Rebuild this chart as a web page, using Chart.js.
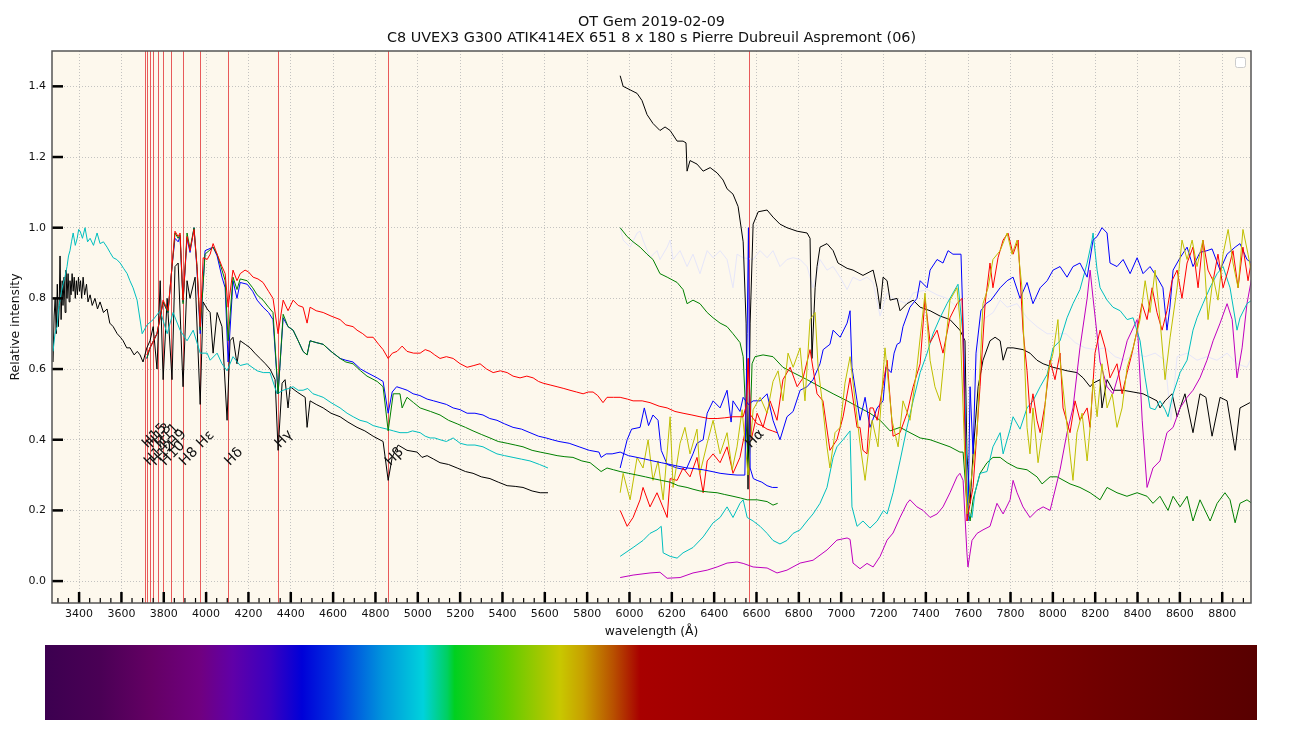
<!DOCTYPE html>
<html>
<head>
<meta charset="utf-8">
<script src="https://cdn.jsdelivr.net/npm/chart.js@4.4.1/dist/chart.umd.min.js"></script>
<style>
  html, body { margin: 0; background: #fff; }
</style>
</head>
<body>
<canvas id="spectrum" width="1303" height="736"></canvas>
<script>
const titleLines = ['OT Gem 2019-02-09', 'C8 UVEX3 G300 ATIK414EX 651 8 x 180 s Pierre Dubreuil Aspremont (06)'];

// Balmer lines (Å) and their labels
const balmerWl = [3712, 3722, 3734, 3750, 3771, 3798, 3835, 3889, 3970, 4102, 4340, 4861, 6563];
const balmerNames = ['H15', 'H14', 'H13', 'H12', 'H11', 'H10', 'H9', 'H8', 'Hε', 'Hδ', 'Hγ', 'Hβ', 'Hα'];
const labelLevel = [0.375, 0.325, 0.375, 0.325, 0.375, 0.325, 0.375, 0.325, 0.375, 0.325, 0.375, 0.325, 0.375];

// spectra, [wavelength, relative intensity]
const black1 = [[3277,0.62],[3282,0.75],[3287,0.80],[3292,0.70],[3297,0.84],[3302,0.72],[3306,0.78],[3310,0.92],[3315,0.74],[3320,0.85],[3324,0.78],[3329,0.86],[3334,0.76],[3338,0.88],[3343,0.80],[3348,0.87],[3353,0.79],[3357,0.85],[3362,0.81],[3367,0.87],[3372,0.82],[3377,0.86],[3382,0.80],[3387,0.85],[3392,0.81],[3397,0.86],[3402,0.82],[3407,0.85],[3412,0.80],[3419,0.86],[3426,0.81],[3435,0.84],[3442,0.79],[3452,0.81],[3462,0.78],[3475,0.80],[3487,0.77],[3499,0.79],[3515,0.76],[3532,0.77],[3545,0.73],[3561,0.72],[3580,0.70],[3595,0.69],[3608,0.68],[3625,0.66],[3641,0.66],[3660,0.64],[3675,0.65],[3688,0.64],[3702,0.62],[3720,0.66],[3735,0.68],[3750,0.72],[3768,0.60],[3783,0.85],[3797,0.57],[3816,0.80],[3839,0.57],[3853,0.89],[3868,0.90],[3891,0.55],[3910,0.85],[3924,0.80],[3948,0.86],[3972,0.50],[3986,0.79],[4005,0.77],[4019,0.76],[4033,0.645],[4052,0.76],[4075,0.72],[4099,0.455],[4113,0.68],[4127,0.69],[4146,0.615],[4161,0.68],[4185,0.67],[4208,0.66],[4230,0.645],[4255,0.63],[4280,0.615],[4302,0.60],[4326,0.57],[4340,0.37],[4359,0.56],[4373,0.57],[4387,0.49],[4397,0.55],[4430,0.535],[4468,0.52],[4477,0.435],[4491,0.51],[4520,0.50],[4553,0.49],[4590,0.475],[4633,0.465],[4670,0.45],[4713,0.435],[4750,0.425],[4789,0.41],[4836,0.395],[4860,0.285],[4879,0.35],[4907,0.385],[4949,0.37],[4997,0.365],[5020,0.35],[5044,0.355],[5075,0.345],[5105,0.335],[5145,0.33],[5186,0.32],[5225,0.31],[5261,0.305],[5300,0.295],[5341,0.29],[5380,0.28],[5422,0.27],[5460,0.268],[5497,0.265],[5540,0.255],[5578,0.25],[5615,0.25]];

const cyan1 = [[3277,0.65],[3286,0.70],[3296,0.72],[3303,0.77],[3310,0.795],[3317,0.82],[3324,0.84],[3333,0.86],[3343,0.89],[3350,0.92],[3357,0.935],[3364,0.96],[3372,0.985],[3382,0.95],[3391,0.97],[3398,0.995],[3405,0.99],[3416,0.97],[3428,1.0],[3440,0.96],[3452,0.97],[3468,0.95],[3485,0.985],[3499,0.955],[3515,0.96],[3532,0.945],[3546,0.93],[3561,0.915],[3578,0.91],[3594,0.90],[3610,0.885],[3627,0.87],[3640,0.85],[3655,0.83],[3674,0.795],[3698,0.70],[3721,0.725],[3750,0.74],[3783,0.765],[3816,0.70],[3844,0.76],[3877,0.71],[3910,0.68],[3939,0.71],[3972,0.645],[4005,0.645],[4019,0.625],[4052,0.645],[4075,0.615],[4099,0.595],[4127,0.635],[4161,0.61],[4194,0.615],[4241,0.595],[4270,0.59],[4302,0.59],[4335,0.53],[4364,0.54],[4390,0.545],[4411,0.55],[4435,0.54],[4458,0.54],[4480,0.545],[4505,0.53],[4530,0.525],[4553,0.52],[4590,0.505],[4633,0.49],[4666,0.475],[4695,0.465],[4727,0.455],[4760,0.45],[4789,0.44],[4820,0.435],[4855,0.43],[4885,0.425],[4916,0.42],[4950,0.42],[4975,0.425],[5011,0.42],[5035,0.41],[5058,0.405],[5080,0.405],[5105,0.40],[5135,0.395],[5167,0.405],[5200,0.39],[5233,0.385],[5270,0.385],[5308,0.38],[5340,0.37],[5374,0.36],[5410,0.355],[5450,0.35],[5490,0.345],[5530,0.34],[5575,0.33],[5615,0.32]];

const red1 = [[3720,0.64],[3735,0.66],[3768,0.70],[3797,0.795],[3820,0.765],[3839,0.89],[3853,0.99],[3868,0.975],[3877,0.985],[3891,0.795],[3910,0.975],[3924,0.935],[3943,0.995],[3957,0.89],[3972,0.72],[3986,0.915],[4005,0.91],[4019,0.925],[4033,0.955],[4052,0.925],[4075,0.89],[4090,0.87],[4104,0.775],[4127,0.88],[4146,0.85],[4161,0.87],[4184,0.88],[4200,0.875],[4222,0.86],[4245,0.855],[4269,0.845],[4295,0.82],[4316,0.80],[4340,0.70],[4364,0.795],[4387,0.765],[4411,0.795],[4435,0.78],[4458,0.775],[4477,0.73],[4491,0.775],[4520,0.765],[4553,0.76],[4590,0.75],[4633,0.74],[4660,0.725],[4694,0.72],[4713,0.71],[4740,0.70],[4760,0.69],[4789,0.69],[4815,0.67],[4836,0.655],[4860,0.63],[4880,0.645],[4902,0.65],[4926,0.665],[4949,0.65],[4980,0.645],[5011,0.645],[5035,0.655],[5058,0.65],[5080,0.64],[5105,0.63],[5135,0.635],[5167,0.63],[5200,0.615],[5233,0.605],[5265,0.61],[5294,0.615],[5325,0.60],[5356,0.59],[5390,0.595],[5422,0.59],[5450,0.58],[5483,0.575],[5515,0.58],[5545,0.575],[5570,0.565],[5592,0.56],[5625,0.555],[5658,0.55],[5690,0.545],[5719,0.54],[5750,0.535],[5781,0.53],[5805,0.535],[5828,0.535],[5850,0.525],[5875,0.505],[5894,0.52],[5925,0.52],[5956,0.52],[5990,0.515],[6017,0.51],[6060,0.51],[6097,0.505],[6140,0.495],[6178,0.49],[6215,0.48],[6253,0.475],[6295,0.47],[6333,0.465],[6375,0.46],[6414,0.46],[6450,0.462],[6489,0.465],[6537,0.465],[6553,0.50],[6562,0.63],[6572,0.47],[6603,0.445],[6625,0.44],[6650,0.43],[6675,0.425],[6697,0.42]];

const blue1 = [[3720,0.63],[3735,0.66],[3768,0.70],[3797,0.79],[3820,0.76],[3839,0.89],[3853,0.97],[3868,0.96],[3877,0.975],[3891,0.79],[3910,0.97],[3924,0.93],[3943,1.0],[3957,0.88],[3972,0.70],[3995,0.935],[4033,0.945],[4052,0.92],[4075,0.86],[4090,0.83],[4104,0.62],[4127,0.85],[4146,0.80],[4161,0.845],[4194,0.84],[4220,0.82],[4241,0.795],[4269,0.775],[4295,0.76],[4316,0.74],[4340,0.53],[4364,0.745],[4387,0.72],[4411,0.71],[4435,0.68],[4458,0.65],[4477,0.64],[4491,0.68],[4520,0.675],[4553,0.67],[4590,0.65],[4633,0.63],[4660,0.625],[4694,0.62],[4730,0.60],[4760,0.59],[4808,0.575],[4836,0.565],[4860,0.475],[4879,0.535],[4900,0.55],[4926,0.545],[4950,0.54],[4978,0.53],[5010,0.525],[5044,0.515],[5075,0.51],[5105,0.505],[5135,0.50],[5167,0.49],[5200,0.485],[5233,0.475],[5270,0.475],[5308,0.47],[5340,0.46],[5374,0.455],[5410,0.445],[5450,0.435],[5490,0.43],[5530,0.42],[5570,0.41],[5606,0.405],[5635,0.40],[5667,0.395],[5715,0.39],[5762,0.38],[5810,0.37],[5856,0.365],[5866,0.35],[5890,0.36],[5918,0.36],[5956,0.365],[5995,0.355],[6036,0.35],[6075,0.345],[6111,0.34],[6150,0.335],[6192,0.33],[6230,0.325],[6272,0.32],[6310,0.318],[6348,0.315],[6390,0.31],[6428,0.305],[6470,0.302],[6508,0.30],[6545,0.30],[6556,0.70],[6562,1.0],[6570,0.32],[6585,0.29],[6603,0.285],[6625,0.28],[6650,0.27],[6675,0.265],[6700,0.265]];

const green1 = [[3720,0.63],[3735,0.66],[3768,0.70],[3797,0.79],[3820,0.76],[3839,0.89],[3853,0.985],[3868,0.97],[3877,0.98],[3891,0.785],[3910,0.985],[3924,0.94],[3943,1.0],[3957,0.89],[3972,0.71],[3995,0.925],[4033,0.945],[4052,0.925],[4075,0.88],[4090,0.85],[4104,0.68],[4127,0.86],[4146,0.825],[4161,0.855],[4194,0.85],[4220,0.83],[4241,0.81],[4269,0.795],[4295,0.775],[4316,0.76],[4340,0.53],[4364,0.755],[4387,0.72],[4411,0.71],[4435,0.68],[4458,0.65],[4477,0.64],[4491,0.68],[4520,0.675],[4553,0.67],[4590,0.65],[4633,0.63],[4660,0.62],[4694,0.615],[4730,0.595],[4760,0.58],[4808,0.565],[4836,0.55],[4860,0.425],[4884,0.53],[4916,0.53],[4926,0.49],[4949,0.52],[4980,0.505],[5011,0.49],[5060,0.48],[5105,0.47],[5145,0.455],[5186,0.445],[5225,0.435],[5261,0.425],[5300,0.415],[5341,0.405],[5380,0.395],[5422,0.39],[5460,0.385],[5497,0.38],[5540,0.37],[5578,0.365],[5620,0.36],[5658,0.355],[5695,0.352],[5733,0.35],[5775,0.34],[5814,0.335],[5866,0.31],[5894,0.32],[5925,0.315],[5956,0.31],[5995,0.305],[6036,0.30],[6075,0.295],[6111,0.29],[6150,0.285],[6192,0.28],[6230,0.27],[6272,0.265],[6300,0.26],[6333,0.255],[6375,0.252],[6414,0.25],[6450,0.245],[6489,0.24],[6525,0.235],[6556,0.23],[6603,0.23],[6650,0.225],[6678,0.215],[6700,0.22]];

const black2 = [[5956,1.43],[5970,1.40],[6003,1.39],[6036,1.38],[6059,1.36],[6083,1.32],[6111,1.295],[6144,1.275],[6168,1.285],[6192,1.275],[6225,1.245],[6253,1.245],[6267,1.24],[6272,1.16],[6286,1.19],[6319,1.18],[6348,1.16],[6381,1.17],[6414,1.155],[6442,1.135],[6461,1.11],[6489,1.095],[6513,1.06],[6537,0.96],[6551,0.73],[6560,0.26],[6570,0.73],[6584,1.01],[6608,1.045],[6650,1.05],[6678,1.03],[6711,1.01],[6744,1.0],[6792,0.99],[6839,0.985],[6853,0.97],[6862,0.63],[6877,0.83],[6886,0.89],[6900,0.945],[6933,0.955],[6962,0.935],[6985,0.90],[7028,0.885],[7056,0.88],[7103,0.865],[7151,0.88],[7170,0.83],[7184,0.77],[7198,0.86],[7217,0.85],[7231,0.795],[7264,0.80],[7278,0.765],[7311,0.785],[7340,0.795],[7373,0.775],[7420,0.765],[7467,0.75],[7514,0.74],[7561,0.71],[7585,0.68],[7594,0.36],[7609,0.22],[7623,0.36],[7647,0.55],[7670,0.625],[7703,0.68],[7727,0.69],[7751,0.68],[7765,0.625],[7784,0.66],[7812,0.66],[7859,0.655],[7892,0.645],[7925,0.625],[7954,0.615],[8001,0.605],[8034,0.60],[8067,0.595],[8114,0.59],[8143,0.575],[8176,0.55],[8190,0.56],[8223,0.57],[8232,0.49],[8256,0.57],[8284,0.54],[8332,0.54],[8379,0.535],[8426,0.53],[8459,0.52],[8492,0.51],[8506,0.49],[8530,0.51],[8563,0.53],[8587,0.465],[8624,0.53],[8662,0.42],[8695,0.53],[8723,0.52],[8752,0.41],[8790,0.52],[8823,0.51],[8861,0.37],[8884,0.49],[8931,0.505]];

const lavender = [[5956,1.0],[5970,0.965],[6003,0.945],[6036,0.985],[6050,0.99],[6064,0.965],[6097,0.915],[6130,0.935],[6144,0.91],[6178,0.945],[6192,0.965],[6206,0.91],[6239,0.935],[6272,0.89],[6300,0.925],[6333,0.87],[6367,0.935],[6395,0.915],[6428,0.935],[6461,0.91],[6489,0.83],[6508,0.925],[6537,0.915],[6584,0.91],[6617,0.935],[6650,0.915],[6678,0.935],[6711,0.89],[6744,0.91],[6773,0.915],[6806,0.91],[6839,0.89],[6867,0.83],[6900,0.91],[6933,0.88],[6962,0.89],[6995,0.86],[7028,0.825],[7056,0.86],[7089,0.85],[7122,0.86],[7151,0.845],[7184,0.75],[7217,0.815],[7245,0.80],[7311,0.785],[7340,0.815],[7406,0.825],[7453,0.81],[7500,0.80],[7547,0.775],[7570,0.75],[7600,0.45],[7620,0.55],[7670,0.74],[7718,0.76],[7751,0.795],[7784,0.775],[7831,0.785],[7878,0.745],[7925,0.72],[7973,0.70],[8020,0.70],[8062,0.70],[8105,0.675],[8152,0.66],[8200,0.655],[8247,0.66],[8294,0.635],[8341,0.625],[8389,0.645],[8436,0.635],[8483,0.645],[8530,0.625],[8558,0.455],[8587,0.635],[8634,0.645],[8681,0.625],[8728,0.635],[8775,0.625],[8823,0.645],[8870,0.615],[8917,0.605],[8940,0.635]];

const green2 = [[5956,1.0],[5989,0.975],[6017,0.96],[6050,0.945],[6083,0.925],[6111,0.91],[6144,0.87],[6178,0.86],[6225,0.845],[6253,0.825],[6272,0.785],[6300,0.795],[6333,0.785],[6367,0.76],[6395,0.745],[6428,0.73],[6461,0.72],[6489,0.70],[6522,0.675],[6537,0.635],[6551,0.45],[6563,0.30],[6579,0.615],[6593,0.635],[6631,0.64],[6678,0.635],[6725,0.605],[6773,0.59],[6839,0.57],[6900,0.55],[6962,0.53],[7028,0.51],[7089,0.49],[7136,0.475],[7184,0.455],[7231,0.425],[7278,0.435],[7325,0.42],[7373,0.405],[7420,0.40],[7467,0.39],[7514,0.38],[7561,0.365],[7576,0.365],[7594,0.22],[7609,0.17],[7623,0.23],[7656,0.305],[7689,0.335],[7717,0.35],[7751,0.35],[7784,0.335],[7831,0.32],[7878,0.315],[7925,0.295],[7949,0.275],[7987,0.295],[8020,0.295],[8081,0.275],[8128,0.265],[8176,0.25],[8223,0.23],[8256,0.265],[8303,0.25],[8350,0.24],[8398,0.25],[8445,0.24],[8473,0.22],[8506,0.24],[8544,0.20],[8568,0.24],[8601,0.21],[8634,0.24],[8662,0.17],[8695,0.23],[8743,0.17],[8776,0.22],[8813,0.25],[8837,0.23],[8861,0.165],[8884,0.22],[8917,0.23],[8940,0.22]];

const cyan2 = [[5956,0.07],[6017,0.095],[6064,0.115],[6097,0.135],[6130,0.145],[6150,0.155],[6159,0.08],[6192,0.07],[6225,0.065],[6253,0.08],[6300,0.095],[6348,0.125],[6395,0.165],[6428,0.18],[6461,0.21],[6489,0.18],[6522,0.22],[6537,0.23],[6556,0.18],[6584,0.17],[6617,0.155],[6650,0.135],[6678,0.115],[6711,0.105],[6744,0.115],[6773,0.135],[6806,0.145],[6839,0.17],[6867,0.19],[6900,0.22],[6933,0.265],[6962,0.35],[6980,0.38],[7009,0.40],[7042,0.425],[7051,0.21],[7075,0.155],[7103,0.17],[7136,0.15],[7170,0.17],[7200,0.20],[7217,0.19],[7245,0.25],[7278,0.34],[7311,0.435],[7340,0.51],[7373,0.59],[7406,0.645],[7434,0.70],[7467,0.745],[7500,0.785],[7528,0.815],[7552,0.84],[7575,0.70],[7599,0.20],[7618,0.18],[7632,0.25],[7656,0.305],[7689,0.31],[7717,0.38],[7751,0.42],[7765,0.36],[7798,0.43],[7812,0.465],[7845,0.43],[7878,0.49],[7906,0.51],[7940,0.55],[7973,0.585],[8001,0.66],[8034,0.68],[8067,0.745],[8095,0.785],[8128,0.825],[8162,0.90],[8185,0.965],[8190,0.985],[8209,0.88],[8223,0.83],[8256,0.795],[8284,0.775],[8318,0.765],[8351,0.74],[8379,0.745],[8412,0.68],[8436,0.575],[8459,0.49],[8483,0.485],[8506,0.51],[8530,0.485],[8544,0.465],[8568,0.53],[8601,0.59],[8634,0.625],[8662,0.71],[8681,0.745],[8709,0.785],[8742,0.83],[8776,0.87],[8804,0.89],[8837,0.83],[8870,0.71],[8884,0.745],[8917,0.785],[8940,0.795]];

const magenta = [[5956,0.01],[6017,0.017],[6097,0.023],[6144,0.025],[6178,0.008],[6239,0.01],[6300,0.023],[6367,0.031],[6414,0.04],[6461,0.051],[6508,0.054],[6537,0.05],[6584,0.04],[6650,0.037],[6697,0.023],[6744,0.031],[6806,0.051],[6867,0.059],[6933,0.088],[6980,0.116],[7028,0.122],[7042,0.118],[7056,0.051],[7089,0.035],[7122,0.05],[7151,0.04],[7184,0.07],[7217,0.116],[7245,0.136],[7278,0.18],[7311,0.22],[7325,0.23],[7358,0.21],[7387,0.20],[7420,0.18],[7453,0.19],[7481,0.21],[7514,0.25],[7547,0.295],[7561,0.305],[7576,0.285],[7594,0.08],[7599,0.04],[7618,0.115],[7642,0.135],[7670,0.145],[7703,0.155],[7736,0.22],[7765,0.19],[7798,0.23],[7812,0.285],[7831,0.25],[7859,0.21],[7892,0.18],[7925,0.20],[7954,0.21],[7987,0.20],[8034,0.315],[8067,0.42],[8095,0.49],[8128,0.66],[8162,0.80],[8176,0.88],[8190,0.80],[8223,0.62],[8256,0.55],[8284,0.53],[8318,0.60],[8351,0.68],[8398,0.74],[8422,0.455],[8445,0.265],[8473,0.32],[8506,0.34],[8539,0.42],[8568,0.435],[8601,0.49],[8634,0.52],[8662,0.54],[8695,0.575],[8728,0.625],[8757,0.68],[8790,0.73],[8823,0.785],[8847,0.74],[8870,0.575],[8894,0.66],[8917,0.785],[8940,0.86]];

const blue2 = [[5956,0.32],[5989,0.40],[6010,0.43],[6050,0.435],[6070,0.49],[6090,0.44],[6111,0.47],[6135,0.455],[6150,0.37],[6178,0.33],[6225,0.32],[6267,0.315],[6300,0.36],[6319,0.39],[6348,0.40],[6367,0.475],[6395,0.51],[6428,0.49],[6461,0.54],[6480,0.45],[6489,0.51],[6522,0.48],[6537,0.52],[6562,0.50],[6584,0.51],[6617,0.51],[6650,0.53],[6678,0.455],[6711,0.40],[6744,0.465],[6773,0.48],[6806,0.54],[6839,0.55],[6867,0.57],[6900,0.615],[6915,0.655],[6947,0.67],[6962,0.71],[6995,0.69],[7028,0.73],[7042,0.765],[7051,0.605],[7075,0.51],[7089,0.455],[7113,0.52],[7136,0.435],[7170,0.49],[7198,0.51],[7212,0.605],[7236,0.59],[7250,0.645],[7264,0.67],[7278,0.675],[7292,0.72],[7325,0.775],[7358,0.80],[7373,0.85],[7406,0.83],[7420,0.88],[7453,0.91],[7481,0.90],[7505,0.935],[7528,0.925],[7566,0.925],[7580,0.645],[7590,0.27],[7599,0.17],[7609,0.55],[7623,0.36],[7637,0.645],[7660,0.765],[7684,0.785],[7708,0.795],[7751,0.83],[7784,0.85],[7812,0.86],[7845,0.80],[7878,0.845],[7906,0.785],[7940,0.83],[7973,0.85],[8001,0.88],[8034,0.89],[8067,0.86],[8095,0.89],[8128,0.90],[8162,0.86],[8190,0.965],[8209,0.975],[8232,1.0],[8256,0.985],[8270,0.90],[8303,0.89],[8332,0.91],[8365,0.87],[8398,0.915],[8426,0.87],[8459,0.89],[8492,0.86],[8520,0.83],[8539,0.71],[8553,0.775],[8568,0.88],[8601,0.915],[8634,0.945],[8662,0.89],[8695,0.93],[8728,0.935],[8752,0.94],[8790,0.88],[8823,0.925],[8861,0.945],[8884,0.955],[8917,0.91],[8940,0.90]];

const red2 = [[5956,0.20],[5989,0.155],[6017,0.18],[6050,0.23],[6064,0.265],[6097,0.21],[6130,0.25],[6178,0.18],[6192,0.29],[6225,0.285],[6253,0.32],[6286,0.295],[6319,0.35],[6348,0.25],[6367,0.34],[6395,0.36],[6428,0.335],[6461,0.38],[6489,0.305],[6522,0.35],[6545,0.42],[6560,0.63],[6575,0.40],[6603,0.475],[6631,0.435],[6664,0.51],[6697,0.455],[6725,0.57],[6759,0.605],[6792,0.55],[6820,0.575],[6853,0.655],[6886,0.53],[6914,0.51],[6947,0.37],[6980,0.40],[7009,0.465],[7042,0.575],[7075,0.435],[7089,0.435],[7103,0.37],[7122,0.36],[7136,0.49],[7151,0.49],[7170,0.455],[7217,0.625],[7245,0.41],[7278,0.42],[7311,0.475],[7340,0.55],[7373,0.615],[7396,0.80],[7420,0.675],[7453,0.71],[7481,0.645],[7514,0.745],[7547,0.785],[7571,0.80],[7594,0.17],[7623,0.265],[7656,0.55],[7680,0.785],[7703,0.90],[7717,0.83],[7741,0.915],[7765,0.965],[7788,0.985],[7812,0.925],[7836,0.965],[7859,0.71],[7878,0.595],[7892,0.475],[7906,0.53],[7925,0.455],[7940,0.42],[7963,0.50],[7987,0.625],[8010,0.57],[8034,0.645],[8048,0.49],[8081,0.42],[8105,0.51],[8128,0.455],[8162,0.49],[8176,0.435],[8199,0.645],[8223,0.71],[8247,0.66],[8270,0.575],[8303,0.615],[8327,0.53],[8351,0.59],[8374,0.645],[8398,0.71],[8421,0.785],[8445,0.74],[8469,0.83],[8492,0.76],[8516,0.71],[8539,0.765],[8563,0.85],[8587,0.88],[8610,0.80],[8634,0.90],[8662,0.945],[8686,0.83],[8709,0.965],[8733,0.88],[8757,0.85],[8780,0.925],[8804,0.83],[8828,0.88],[8851,0.935],[8875,0.83],[8898,0.945],[8922,0.85],[8936,0.90]];

const yellow = [[5956,0.25],[5970,0.305],[6003,0.23],[6036,0.35],[6064,0.32],[6088,0.40],[6111,0.285],[6135,0.34],[6159,0.23],[6192,0.465],[6206,0.265],[6239,0.39],[6262,0.435],[6286,0.36],[6319,0.43],[6333,0.305],[6367,0.39],[6395,0.455],[6428,0.36],[6461,0.42],[6485,0.315],[6508,0.38],[6532,0.485],[6560,0.30],[6584,0.485],[6617,0.52],[6650,0.475],[6678,0.565],[6702,0.595],[6725,0.51],[6749,0.645],[6773,0.605],[6806,0.66],[6829,0.51],[6853,0.74],[6877,0.76],[6891,0.605],[6910,0.51],[6933,0.38],[6947,0.32],[6971,0.42],[6995,0.435],[7018,0.56],[7042,0.635],[7066,0.51],[7089,0.39],[7113,0.285],[7146,0.455],[7174,0.38],[7207,0.66],[7240,0.455],[7269,0.38],[7292,0.51],[7325,0.455],[7358,0.605],[7396,0.815],[7420,0.625],[7443,0.55],[7467,0.51],[7491,0.66],[7514,0.795],[7547,0.83],[7561,0.74],[7594,0.19],[7642,0.42],[7670,0.785],[7694,0.83],[7717,0.91],[7751,0.935],[7784,0.985],[7807,0.925],[7831,0.965],[7854,0.83],[7878,0.435],[7892,0.36],[7906,0.49],[7930,0.335],[7954,0.435],[7977,0.59],[8001,0.645],[8024,0.74],[8034,0.625],[8058,0.49],[8081,0.36],[8095,0.285],[8114,0.42],[8138,0.475],[8162,0.34],[8176,0.435],[8190,0.57],[8209,0.465],[8232,0.615],[8256,0.49],[8280,0.53],[8303,0.435],[8327,0.49],[8351,0.605],[8379,0.66],[8412,0.74],[8436,0.85],[8459,0.76],[8483,0.88],[8506,0.74],[8530,0.57],[8554,0.69],[8587,0.83],[8610,0.965],[8634,0.91],[8658,0.965],[8681,0.89],[8709,0.965],[8733,0.74],[8757,0.86],[8780,0.795],[8804,0.925],[8828,0.995],[8851,0.90],[8875,0.83],[8898,0.995],[8922,0.925],[8936,0.88]];

// colour strip under the plot (position 0..1, colour)
const stripStops = [[0,'#3c0050'],[0.045,'#4a0055'],[0.087,'#640064'],[0.128,'#700080'],[0.155,'#6000a8'],[0.186,'#3a00c0'],[0.212,'#0000d8'],[0.238,'#0030e0'],[0.279,'#0096dc'],[0.312,'#00d2dc'],[0.332,'#00d060'],[0.338,'#00d020'],[0.381,'#60cc00'],[0.408,'#a0c800'],[0.425,'#c8c800'],[0.444,'#c8a000'],[0.469,'#b85000'],[0.491,'#a80000'],[0.546,'#a00000'],[0.656,'#900000'],[0.788,'#800000'],[1,'#580000']];

const FONT = '"DejaVu Sans", sans-serif';

const toXY = a => a.map(p => ({x: p[0], y: p[1]}));
function spec(label, arr, color) {
  return {label: label, data: toXY(arr), borderColor: color, borderWidth: 1,
          pointRadius: 0, fill: false, tension: 0};
}

const decor = {
  id: 'decor',
  beforeDraw(chart) {
    const {ctx, chartArea: a} = chart;
    ctx.save();
    ctx.fillStyle = '#fdf8ed';
    ctx.fillRect(a.left, a.top, a.right - a.left, a.bottom - a.top);
    ctx.restore();
  },
  beforeDatasetsDraw(chart) {
    const {ctx, chartArea: a, scales: {x}} = chart;
    ctx.save();
    ctx.setLineDash([]);
    ctx.strokeStyle = 'rgb(232,90,90)';
    ctx.lineWidth = 1;
    balmerWl.forEach(w => {
      const px = Math.round(x.getPixelForValue(w)) + 0.5;
      ctx.beginPath();
      ctx.moveTo(px, a.top);
      ctx.lineTo(px, a.bottom);
      ctx.stroke();
    });
    ctx.restore();
  },
  afterDatasetsDraw(chart) {
    const {ctx, chartArea: a, scales: {x, y}} = chart;
    ctx.save();
    // line labels
    ctx.font = '14px ' + FONT;
    ctx.fillStyle = '#111';
    ctx.textBaseline = 'alphabetic';
    balmerWl.forEach((w, i) => {
      ctx.save();
      ctx.translate(x.getPixelForValue(w) + 2, y.getPixelForValue(labelLevel[i]));
      ctx.rotate(-Math.PI / 4);
      ctx.fillText(balmerNames[i], 0, 0);
      ctx.restore();
    });
    // tick marks inside the frame
    ctx.fillStyle = '#000';
    for (let w = 3300; w <= 8900; w += 50) {
      const px = x.getPixelForValue(w);
      if (w % 200 === 0) ctx.fillRect(px - 1.25, a.bottom - 11, 2.5, 11);
      else ctx.fillRect(px - 0.6, a.bottom - 5, 1.2, 5);
    }
    for (let v = 0; v <= 1.4001; v += 0.2) {
      const py = y.getPixelForValue(v);
      ctx.fillRect(a.left, py - 1.25, 11, 2.5);
    }
    // frame
    ctx.strokeStyle = '#555';
    ctx.lineWidth = 1.5;
    ctx.strokeRect(a.left, a.top, a.right - a.left, a.bottom - a.top);
    // empty legend box
    ctx.strokeStyle = '#ccc';
    ctx.fillStyle = '#fff';
    ctx.lineWidth = 1;
    ctx.beginPath();
    ctx.roundRect(a.right - 15.5, a.top + 6.5, 10, 10, 2);
    ctx.fill();
    ctx.stroke();
    ctx.restore();
  },
  afterDraw(chart) {
    const {ctx, chartArea: a} = chart;
    ctx.save();
    // two-line title, centred over the plot frame
    ctx.font = '14.4px ' + FONT;
    ctx.fillStyle = '#111';
    ctx.textAlign = 'center';
    ctx.textBaseline = 'middle';
    const cx = (a.left + a.right) / 2;
    ctx.fillText(titleLines[0], cx, 22);
    ctx.fillText(titleLines[1], cx, 38.5);
    // colour strip
    const x0 = 45, x1 = 1257, y0 = 645, y1 = 720;
    const g = ctx.createLinearGradient(x0, 0, x1, 0);
    stripStops.forEach(s => g.addColorStop(s[0], s[1]));
    ctx.fillStyle = g;
    ctx.fillRect(x0, y0, x1 - x0, y1 - y0);
    ctx.restore();
  }
};

new Chart(document.getElementById('spectrum').getContext('2d'), {
  type: 'line',
  data: {
    datasets: [
      spec('red 1', red1, '#ff0000'),
      spec('green 1', green1, '#008000'),
      spec('blue 1', blue1, '#0000ff'),
      spec('cyan 1', cyan1, '#00bfbf'),
      spec('black 1', black1, '#000000'),
      spec('yellow', yellow, '#bfbf00'),
      spec('red 2', red2, '#ff0000'),
      spec('blue 2', blue2, '#0000ff'),
      spec('cyan 2', cyan2, '#00bfbf'),
      spec('magenta', magenta, '#bf00bf'),
      spec('green 2', green2, '#008000'),
      spec('black 2', black2, '#000000'),
      spec('lavender', lavender, '#e6e6fa')
    ]
  },
  options: {
    responsive: false,
    animation: false,
    events: [],
    layout: { padding: { top: 51, right: 52, bottom: 93, left: 0 } },
    plugins: {
      legend: { display: false },
      tooltip: { enabled: false },
      title: { display: false }
    },
    scales: {
      x: {
        type: 'linear',
        min: 3272,
        max: 8936,
        afterFit: s => { s.height = 40; },
        grid: { color: '#b5b5b5', lineWidth: 0.8, drawTicks: false },
        border: { display: false, dash: [1, 2] },
        ticks: {
          stepSize: 200, includeBounds: false, autoSkip: false, maxRotation: 0,
          padding: 5, color: '#111', font: { family: FONT, size: 11 },
          callback: v => String(v)
        },
        title: {
          display: true, text: 'wavelength (Å)', color: '#111',
          font: { family: FONT, size: 12.3 }, padding: { top: 0, bottom: 4 }
        }
      },
      y: {
        type: 'linear',
        min: -0.062,
        max: 1.5,
        afterFit: s => { s.width = 52; },
        grid: { color: '#b5b5b5', lineWidth: 0.8, drawTicks: false },
        border: { display: false, dash: [1, 2] },
        ticks: {
          stepSize: 0.2, includeBounds: false, padding: 6, color: '#111',
          font: { family: FONT, size: 11 },
          callback: v => v.toFixed(1)
        },
        title: {
          display: true, text: 'Relative intensity', color: '#111',
          font: { family: FONT, size: 12.3 }, padding: { top: 8, bottom: 0 }
        }
      }
    }
  },
  plugins: [decor]
});
</script>
</body>
</html>
